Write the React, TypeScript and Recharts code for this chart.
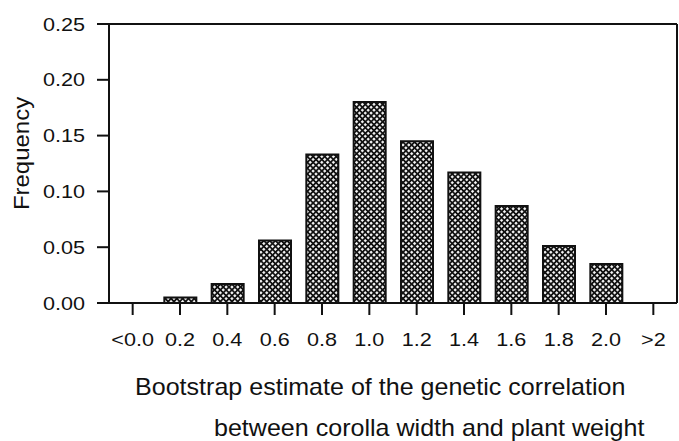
import { BarChart, Bar, XAxis, YAxis, CartesianGrid } from "recharts"

const bins = ["<0.0", "0.2", "0.4", "0.6", "0.8", "1.0", "1.2", "1.4", "1.6", "1.8", "2.0", ">2"]
const frequency = [0, 0.005, 0.017, 0.056, 0.133, 0.18, 0.145, 0.117, 0.087, 0.051, 0.035, 0]
const yTicks = [0, 0.05, 0.1, 0.15, 0.2, 0.25]

const data = bins.map((bin, i) => ({ bin, value: frequency[i] }))

const ink = "#111"
const font = "'Liberation Sans', Arial, Helvetica, sans-serif"
const TICK = 12

// scan text is a bit wider than Liberation Sans, hence the scaleX
const renderXTick = (props: any) => {
  const { x, y, payload } = props
  return (
    <text
      key={`xt-${payload.value}`}
      transform={`translate(${x},${y + 31}) scale(1.2,1)`}
      textAnchor="middle"
      fontSize={18}
      fontFamily={font}
      fill={ink}
    >
      {payload.value}
    </text>
  )
}

const renderYTick = (props: any) => {
  const { x, y, payload } = props
  return (
    <text
      key={`yt-${payload.value}`}
      transform={`translate(${x},${y + 6.5}) scale(1.2,1)`}
      textAnchor="end"
      fontSize={18}
      fontFamily={font}
      fill={ink}
    >
      {Number(payload.value).toFixed(2)}
    </text>
  )
}

const XTitle = () => (
  <g fontFamily={font} fontSize={23} fill={ink}>
    <text transform="translate(135,395) scale(1.09,1)">
      Bootstrap estimate of the genetic correlation
    </text>
    <text transform="translate(214,436) scale(1.09,1)">
      between corolla width and plant weight
    </text>
  </g>
)

const YTitle = () => (
  <text
    transform="translate(29,153.5) rotate(-90) scale(1.09,1)"
    textAnchor="middle"
    fontFamily={font}
    fontSize={22}
    fill={ink}
  >
    Frequency
  </text>
)

// top and right edges of the frame
const topEdge = ({ offset }: any) => [offset.top]
const rightEdge = ({ offset }: any) => [offset.left + offset.width]

export default function App() {
  return (
    <div style={{ position: "absolute", left: 0, top: 0, background: "#fff" }}>
      <BarChart
        width={679}
        height={441}
        data={data}
        margin={{ top: 24, right: 2, left: 0, bottom: 0 }}
      >
        <defs>
          <pattern
            id="hatch"
            patternUnits="userSpaceOnUse"
            width={4.1}
            height={4.1}
            patternTransform="rotate(45)"
          >
            <rect x={0} y={0} width={4.1} height={4.1} fill={ink} />
            <rect x={0.9} y={0.9} width={2.3} height={2.3} fill="#fff" />
          </pattern>
        </defs>
        <CartesianGrid
          stroke={ink}
          strokeWidth={2}
          horizontalCoordinatesGenerator={topEdge}
          verticalCoordinatesGenerator={rightEdge}
        />
        <XAxis
          dataKey="bin"
          height={138}
          stroke={ink}
          tickSize={TICK}
          tickMargin={0}
          tick={renderXTick}
          interval={0}
          axisLine={{ stroke: ink, strokeWidth: 2 }}
          tickLine={{ stroke: ink, strokeWidth: 2 }}
          label={<XTitle />}
        />
        <YAxis
          width={109}
          domain={[0, 0.25]}
          ticks={yTicks}
          stroke={ink}
          tickSize={TICK}
          tickMargin={12}
          tick={renderYTick}
          axisLine={{ stroke: ink, strokeWidth: 2 }}
          tickLine={{ stroke: ink, strokeWidth: 2 }}
          label={<YTitle />}
        />
        <Bar
          dataKey="value"
          barSize={32}
          fill="url(#hatch)"
          stroke={ink}
          strokeWidth={2}
          isAnimationActive={false}
        />
      </BarChart>
    </div>
  )
}
